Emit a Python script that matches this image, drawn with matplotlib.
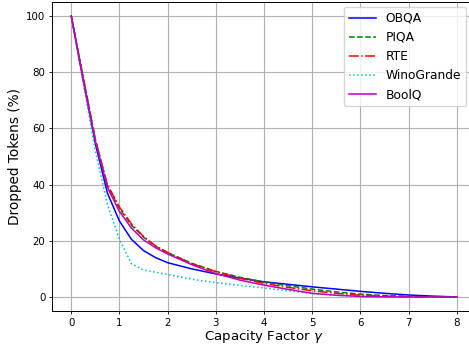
import matplotlib
matplotlib.use("Agg")
import matplotlib.pyplot as plt

# capacity factor sample points
gamma = [0, 0.25, 0.5, 0.75, 1, 1.25, 1.5, 1.75, 2, 2.5, 3, 3.5, 4, 4.5, 5, 5.5, 6, 6.5, 7, 7.5, 8]

# dropped tokens (%)
obqa = [100, 77, 54.5, 37, 27, 20.5, 16.5, 14, 12.2, 10, 8.2, 6.7, 5.4, 4.5, 3.6, 2.8, 2.0, 1.3, 0.7, 0.3, 0]
piqa = [100, 78, 56, 39.5, 31.5, 25.5, 21.3, 18, 15.8, 12, 9.1, 7, 5.3, 4, 2.8, 1.8, 1.0, 0.5, 0.2, 0.05, 0]
rte = [100, 78, 56, 40, 32, 26, 21.5, 18.2, 15.8, 11.8, 9.0, 6.7, 4.8, 3.4, 2.2, 1.3, 0.6, 0.3, 0.1, 0, 0]
winogrande = [100, 76, 52, 33, 20.5, 11.8, 9.6, 8.8, 8.0, 6.3, 5.1, 4.1, 3.2, 2.2, 1.2, 0.6, 0.2, 0.05, 0, 0, 0]
boolq = [100, 77, 55.5, 39, 30.4, 24.5, 20.3, 17.5, 15.3, 11.5, 8.3, 6, 4.2, 2.7, 1.3, 0.6, 0.2, 0.05, 0, 0, 0]

W, H = 469, 345
fig = plt.figure(figsize=(W / 100, H / 100), dpi=100)
# axes run a little past the right edge, as in the cropped original
ax = fig.add_axes([52 / W, 1 - 311 / H, (476 - 52) / W, (311 - 2) / H])

lw = 1.1
ax.plot(gamma, obqa, color="b", linestyle="-", linewidth=lw, label="OBQA")
ax.plot(gamma, piqa, color="g", linestyle="--", linewidth=lw, label="PIQA")
ax.plot(gamma, rte, color="r", linestyle="-.", linewidth=lw, label="RTE")
ax.plot(gamma, winogrande, color="c", linestyle=":", linewidth=lw, label="WinoGrande")
ax.plot(gamma, boolq, color="m", linestyle="-", linewidth=lw, label="BoolQ")

ax.set_xlim(-0.4, 8.4)
ax.set_ylim(-5, 105)
ax.set_xticks(range(0, 9))
ax.set_yticks(range(0, 101, 20))
ax.grid(True, color="#b0b0b0", linewidth=0.8)
ax.set_axisbelow(True)
ax.tick_params(labelsize=7.4, length=2.5, width=0.6, pad=2.2)
for s in ax.spines.values():
    s.set_linewidth(0.7)

ax.set_xlabel("Capacity Factor $\\gamma$", fontsize=9.6, labelpad=0.5)
ax.set_ylabel("Dropped Tokens (%)", fontsize=9.8, labelpad=3)

ax.legend(loc="upper right", bbox_to_anchor=(466 / W, 1 - 7 / H),
          bbox_transform=fig.transFigure, borderaxespad=0, fontsize=8.8,
          handlelength=2.2, labelspacing=0.5)

fig.savefig("out.png", dpi=100)
